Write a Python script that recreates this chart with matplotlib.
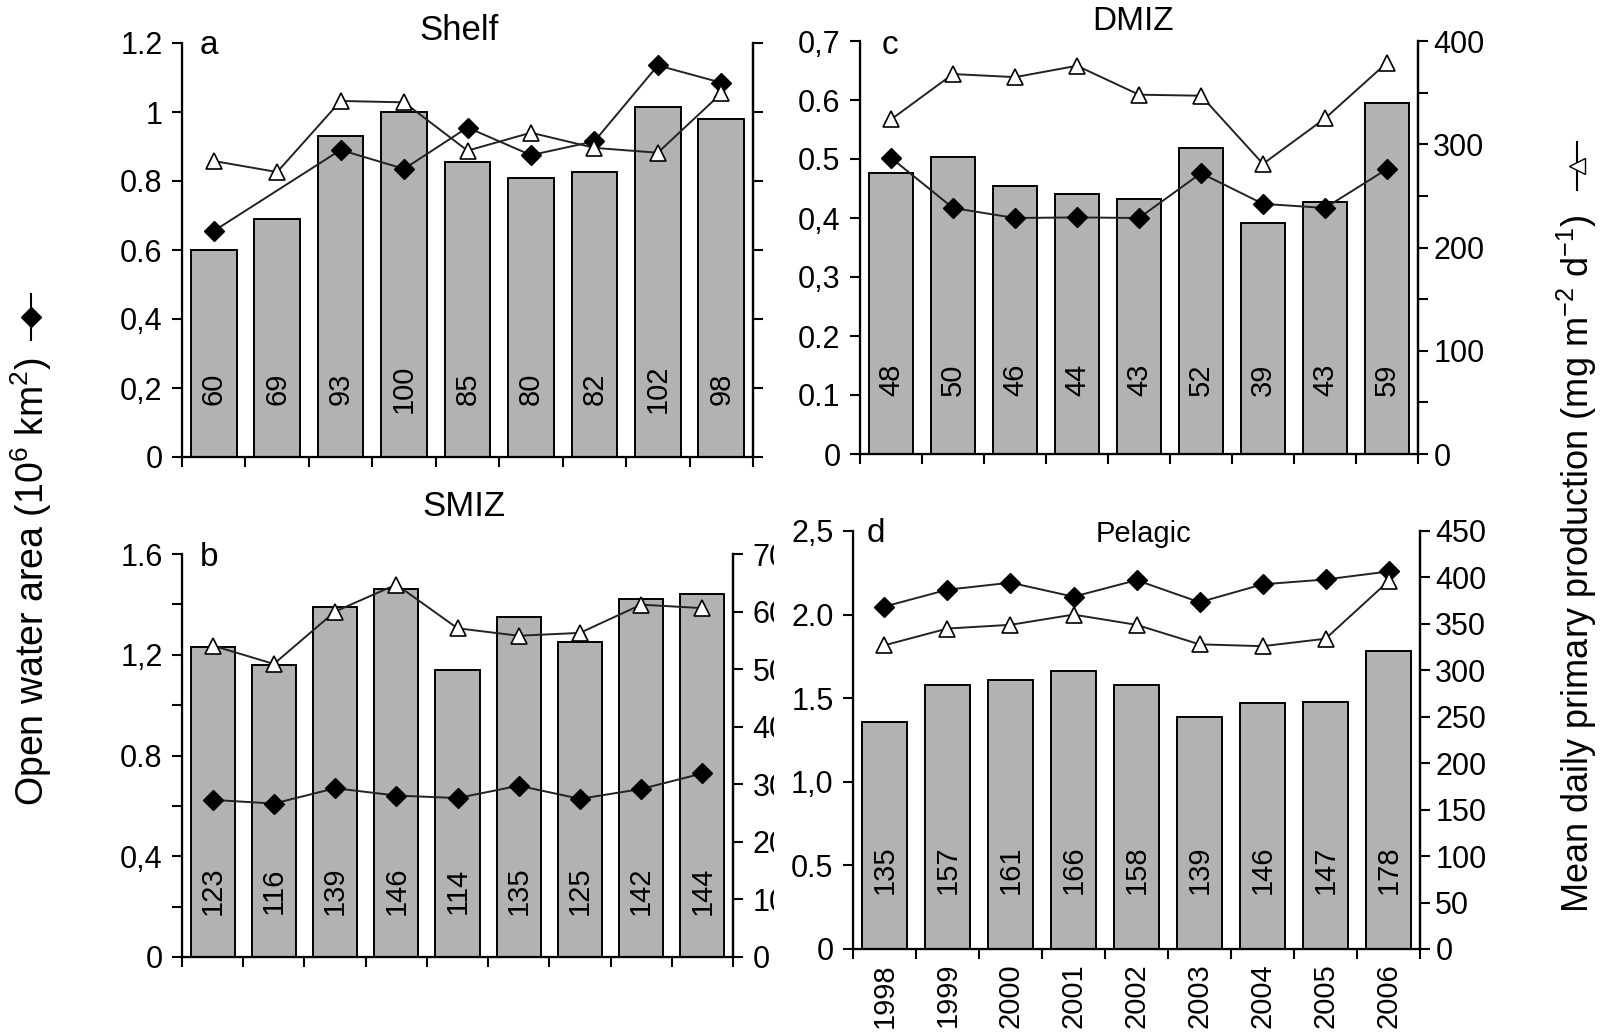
import matplotlib
matplotlib.use("Agg")
import matplotlib.pyplot as plt
from matplotlib.lines import Line2D
from matplotlib.transforms import Bbox, TransformedBbox, blended_transform_factory

plt.rcParams['font.family'] = ['Liberation Sans', 'DejaVu Sans']
plt.rcParams['mathtext.fontset'] = 'custom'
plt.rcParams['mathtext.rm'] = 'Liberation Sans'
plt.rcParams['mathtext.it'] = 'Liberation Sans:italic'

# data
years = ['1998', '1999', '2000', '2001', '2002', '2003', '2004', '2005', '2006']

shelf_bars = [0.60, 0.69, 0.93, 1.00, 0.855, 0.81, 0.825, 1.015, 0.98]
shelf_labels = ['60', '69', '93', '100', '85', '80', '82', '102', '98']
shelf_water = [0.655, None, 0.89, 0.835, 0.955, 0.875, 0.915, 1.135, 1.085]
shelf_pp = [42.9, 41.3, 51.6, 51.4, 44.4, 47.0, 44.8, 44.1, 52.7]

smiz_bars = [1.23, 1.16, 1.39, 1.46, 1.14, 1.35, 1.25, 1.42, 1.44]
smiz_labels = ['123', '116', '139', '146', '114', '135', '125', '142', '144']
smiz_water = [0.624, 0.609, 0.670, 0.641, 0.631, 0.680, 0.628, 0.667, 0.729]
smiz_pp = [54.1, 50.9, 60.0, 64.7, 57.1, 55.8, 56.3, 61.2, 60.6]

dmiz_bars = [0.477, 0.504, 0.455, 0.441, 0.432, 0.518, 0.392, 0.427, 0.595]
dmiz_labels = ['48', '50', '46', '44', '43', '52', '39', '43', '59']
dmiz_water = [0.502, 0.417, 0.400, 0.401, 0.400, 0.476, 0.424, 0.417, 0.483]
dmiz_pp = [324, 368, 365, 376, 348, 347, 281, 325, 379]

pel_bars = [1.36, 1.58, 1.61, 1.66, 1.58, 1.39, 1.47, 1.48, 1.78]
pel_labels = ['135', '157', '161', '166', '158', '139', '146', '147', '178']
pel_water = [2.048, 2.149, 2.191, 2.107, 2.206, 2.074, 2.181, 2.210, 2.258]
pel_pp = [327, 345, 349, 360, 349, 328, 326, 334, 396]

W, H = 1600, 1032
fig = plt.figure(figsize=(16, 10.32), dpi=100)


def rect(l, r, t, b):
    return [l / W, 1 - b / H, (r - l) / W, (b - t) / H]


FS = 22
BAR = '#b2b2b2'


def panel(box, bars, labels, water, pp, ylim, yticks, ylabels, rlim, rticks, rlabels,
          label_y=0.17, show_years=False, rpad=8):
    ax = fig.add_axes(box)
    x = list(range(1, len(bars) + 1))
    ax.bar(x, bars, width=0.72, color=BAR, edgecolor='black', linewidth=1.4, zorder=2)
    tr = blended_transform_factory(ax.transData, ax.transAxes)
    for xi, lab in zip(x, labels):
        ax.text(xi, label_y, lab, rotation=90, ha='center', va='center',
                fontsize=FS - 1, transform=tr, zorder=3)
    wx = [xi for xi, v in zip(x, water) if v is not None]
    wy = [v for v in water if v is not None]
    ax.plot(wx, wy, color='#222222', lw=1.4, marker='D', ms=10,
            mfc='black', mec='black', zorder=4)
    ax.set_xlim(0.5, len(bars) + 0.5)
    ax.set_ylim(*ylim)
    ax.set_yticks(yticks)
    ax.set_yticklabels(ylabels)
    ax.set_xticks([i + 0.5 for i in range(len(bars) + 1)])
    ax.set_xticklabels([])
    if show_years:
        ax.set_xticks(x, minor=True)
        ax.set_xticklabels(years, minor=True, rotation=90, fontsize=FS - 1, va='top')
        ax.tick_params(axis='x', which='minor', length=0, pad=10)
    ax.spines['top'].set_visible(False)
    for s in ['left', 'right', 'bottom']:
        ax.spines[s].set_linewidth(1.6)
    ax.tick_params(axis='y', which='major', direction='out', length=7, width=1.5,
                   labelsize=FS, pad=7)
    ax.tick_params(axis='x', which='major', direction='out', length=7, width=1.5)

    ax2 = ax.twinx()
    ax2.plot(x, pp, color='#222222', lw=1.4, marker='^', ms=12,
             mfc='white', mec='black', mew=1.2, zorder=5)
    ax2.set_ylim(*rlim)
    ax2.set_yticks(rticks)
    ax2.set_yticklabels(rlabels)
    ax2.spines['top'].set_visible(False)
    ax2.spines['right'].set_linewidth(1.6)
    ax2.tick_params(axis='y', direction='out', length=7, width=1.5, labelsize=FS, pad=rpad)
    return ax, ax2


# a: Shelf (right-hand tick labels are hidden under panel c in the original)
ax_a, ax_a2 = panel(rect(182, 753, 43, 457), shelf_bars, shelf_labels, shelf_water, shelf_pp,
                    (0, 1.2), [0, 0.2, 0.4, 0.6, 0.8, 1.0, 1.2],
                    ['0', '0,2', '0,4', '0.6', '0.8', '1', '1.2'],
                    (0, 60), [0, 10, 20, 30, 40, 50, 60],
                    [''] * 7, label_y=0.165, rpad=7)

# b: SMIZ
ax_b, ax_b2 = panel(rect(182, 733, 554, 957), smiz_bars, smiz_labels, smiz_water, smiz_pp,
                    (0, 1.6), [0, 0.2, 0.4, 0.6, 0.8, 1.0, 1.2, 1.4, 1.6],
                    ['0', '', '0,4', '', '0.8', '', '1,2', '', '1.6'],
                    (0, 70), [0, 10, 20, 30, 40, 50, 60, 70],
                    ['0', '10', '20', '30', '40', '50', '60', '70'], label_y=0.165, rpad=7)

# c: DMIZ
ax_c, ax_c2 = panel(rect(860, 1418, 41, 454), dmiz_bars, dmiz_labels, dmiz_water, dmiz_pp,
                    (0, 0.7), [0, 0.1, 0.2, 0.3, 0.4, 0.5, 0.6, 0.7],
                    ['0', '0.1', '0.2', '0,3', '0,4', '0.5', '0.6', '0,7'],
                    (0, 400), [0, 50, 100, 150, 200, 250, 300, 350, 400],
                    ['0', '', '100', '', '200', '', '300', '', '400'], label_y=0.18, rpad=4)

# d: Pelagic
ax_d, ax_d2 = panel(rect(853, 1420, 531, 949), pel_bars, pel_labels, pel_water, pel_pp,
                    (0, 2.5), [0, 0.5, 1.0, 1.5, 2.0, 2.5],
                    ['0', '0.5', '1,0', '1.5', '2.0', '2,5'],
                    (0, 450), list(range(0, 451, 50)),
                    [str(v) for v in range(0, 451, 50)], label_y=0.19, show_years=True, rpad=4)

# right tick labels of b are cut off by panel d
clip = TransformedBbox(Bbox.from_extents(0, 0, 774 / W, 1), fig.transFigure)
fig.canvas.draw()
for t in ax_b2.get_yticklabels():
    t.set_clip_box(clip)
    t.set_clip_on(True)

# titles and panel letters
fig.text(459 / W, 1 - 31 / H, 'Shelf', ha='center', va='center', fontsize=FS + 3)
fig.text(1133 / W, 1 - 22 / H, 'DMIZ', ha='center', va='center', fontsize=FS + 2)
fig.text(464 / W, 1 - 507 / H, 'SMIZ', ha='center', va='center', fontsize=FS + 3)
fig.text(1143 / W, 1 - 534 / H, 'Pelagic', ha='center', va='center', fontsize=FS - 1)
for lx, ly, letter in [(209, 46, 'a'), (890, 46, 'c'), (209, 558, 'b'), (876, 534, 'd')]:
    fig.text(lx / W, 1 - ly / H, letter, ha='center', va='center', fontsize=FS + 2)

# axis titles with line symbols
fig.text(31 / W, 1 - 806 / H, 'Open water area (10$^6$ km$^2$)', rotation=90,
         ha='center', va='bottom', fontsize=FS + 5)
fig.add_artist(Line2D([31 / W, 31 / W], [1 - 294 / H, 1 - 340 / H], color='black', lw=1.5))
fig.add_artist(Line2D([31 / W], [1 - 317 / H], marker='D', ms=10, color='black'))

fig.text(1577 / W, 1 - 913 / H, 'Mean daily primary production (mg m$^{-2}$ d$^{-1}$)',
         rotation=90, ha='center', va='bottom', fontsize=FS + 4)
fig.add_artist(Line2D([1577 / W, 1577 / W], [1 - 142 / H, 1 - 190 / H], color='black', lw=1.5))
fig.add_artist(Line2D([1577 / W], [1 - 166 / H], marker='<', ms=11, mfc='white',
                      mec='black', color='black'))

fig.savefig('out.png', dpi=100, facecolor='white')
